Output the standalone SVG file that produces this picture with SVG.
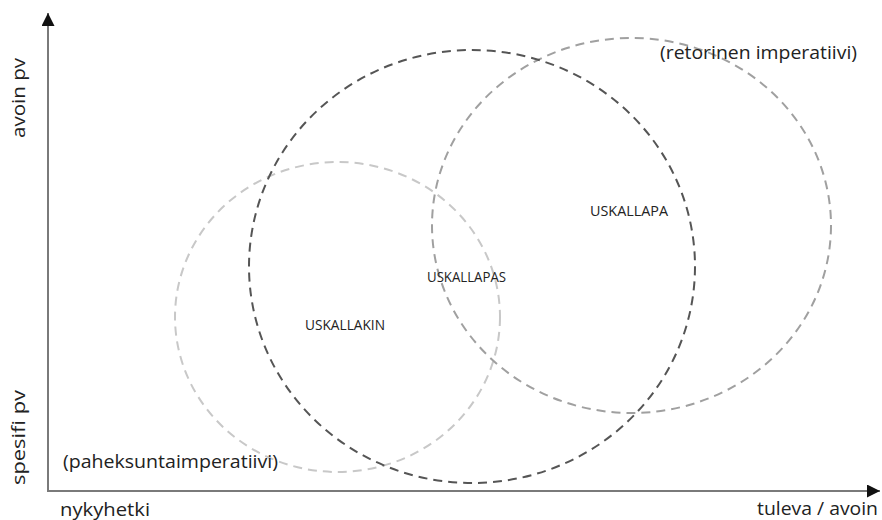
<svg xmlns="http://www.w3.org/2000/svg" width="882" height="520" viewBox="0 0 882 520">
<style>
.ax{stroke:#7a7a7a;stroke-width:2;fill:none}
.c{fill:none;stroke-width:2;stroke-dasharray:9 6}
.lbl{font-family:"Open Sans","Noto Sans",sans-serif;fill:#222}
.ax-l{font-family:"Open Sans","Noto Sans",sans-serif;fill:#222;font-size:18px}
</style>
<defs>
<marker id="arr" viewBox="0 0 10 10" refX="10" refY="5" markerWidth="6.5" markerHeight="6.5" markerUnits="strokeWidth" orient="auto">
<path d="M0,0 L10,5 L0,10 Z" fill="#111"/>
</marker>
</defs>
<g id="axes">
<line class="ax" x1="48" y1="491" x2="48" y2="13" marker-end="url(#arr)"/>
<line class="ax" x1="47" y1="491" x2="880" y2="491" marker-end="url(#arr)"/>
</g>
<g id="connectors"></g>
<g id="circle-light">
<ellipse class="c" cx="337.5" cy="317" rx="162.5" ry="155" stroke="#c8c8c8"/>
</g>
<g id="circle-medium">
<ellipse class="c" cx="631.5" cy="225.5" rx="199.5" ry="187.5" stroke="#a0a0a0"/>
</g>
<g id="circle-dark">
<ellipse class="c" cx="472" cy="266.5" rx="223" ry="216.5" stroke="#555"/>
</g>
<g id="labels">
<text class="lbl" x="305" y="330" font-size="14" textLength="80" lengthAdjust="spacingAndGlyphs">USKALLAKIN</text>
<text class="lbl" x="427" y="282" font-size="14" textLength="79" lengthAdjust="spacingAndGlyphs">USKALLAPAS</text>
<text class="lbl" x="590" y="216" font-size="14" textLength="78" lengthAdjust="spacingAndGlyphs">USKALLAPA</text>
<text class="lbl" x="660" y="59" font-size="18" textLength="197" lengthAdjust="spacingAndGlyphs">(retorinen imperatiivi)</text>
<text class="lbl" x="63" y="468" font-size="18" textLength="215" lengthAdjust="spacingAndGlyphs">(paheksuntaimperatiivi)</text>
<text class="ax-l" x="60" y="516" textLength="90" lengthAdjust="spacingAndGlyphs">nykyhetki</text>
<text class="ax-l" x="757" y="515" textLength="121" lengthAdjust="spacingAndGlyphs">tuleva / avoin</text>
<text class="ax-l" transform="translate(25,138) rotate(-90)" textLength="80" lengthAdjust="spacingAndGlyphs">avoin pv</text>
<text class="ax-l" transform="translate(25,485) rotate(-90)" textLength="95" lengthAdjust="spacingAndGlyphs">spesifi pv</text>
</g>
</svg>
